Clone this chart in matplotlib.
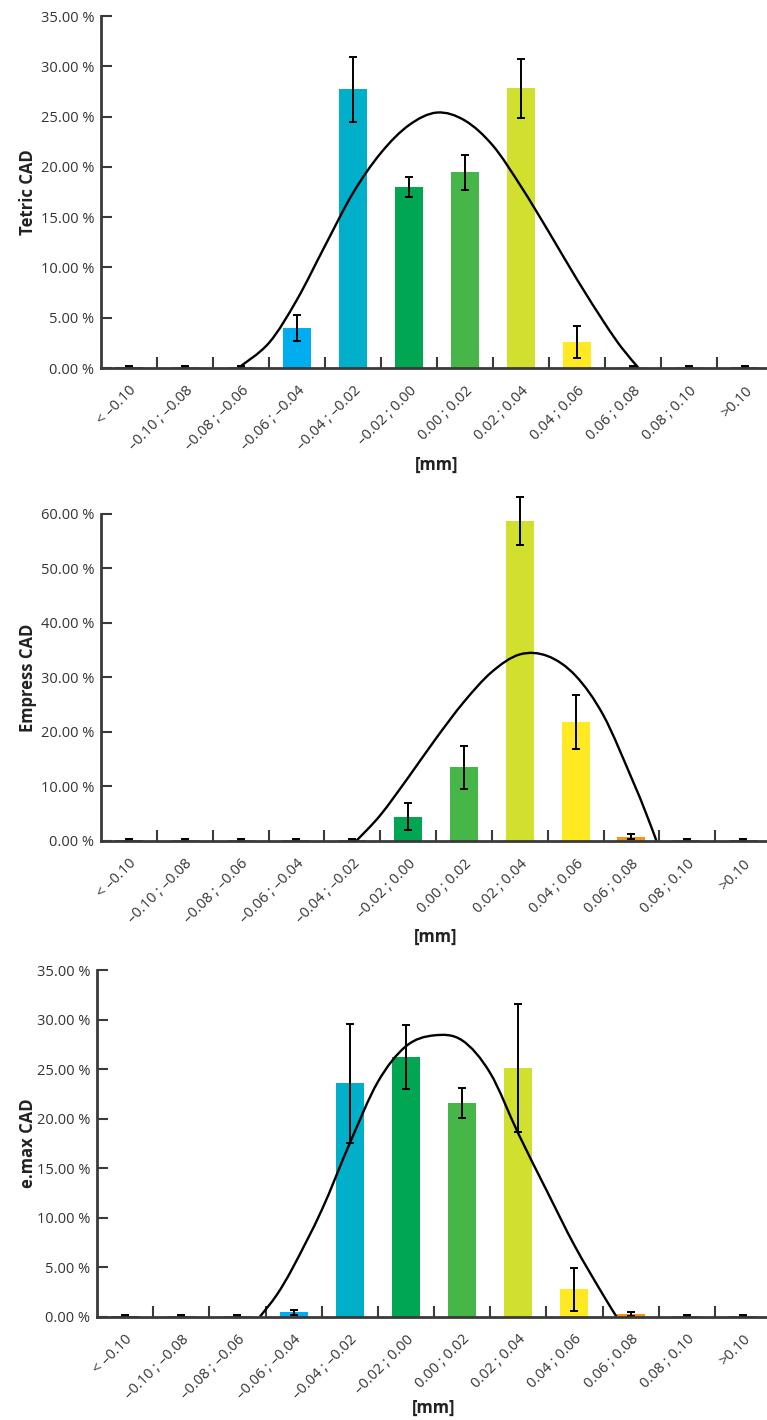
import numpy as np
import matplotlib
matplotlib.use('Agg')
import matplotlib.pyplot as plt
from matplotlib.ticker import FuncFormatter, FixedLocator
from matplotlib.path import Path
from matplotlib.patches import PathPatch

plt.rcParams['font.family'] = ['Open Sans', 'DejaVu Sans']

# bins (mm)
categories = ['< –0.10', '–0.10 ; –0.08', '–0.08 ; –0.06', '–0.06 ; –0.04',
              '–0.04 ; –0.02', '–0.02 ; 0.00', '0.00 ; 0.02', '0.02 ; 0.04',
              '0.04 ; 0.06', '0.06 ; 0.08', '0.08 ; 0.10', '>0.10']
bar_colors = ['#2e3192', '#2a8fd0', '#29a8df', '#00aeef', '#00afca', '#00a651',
              '#46b649', '#d1df2e', '#ffe922', '#f7941d', '#e8603c', '#b8372f']

# Tetric CAD
tetric_vals = [0.1, 0.1, 0.1, 4.0, 27.7, 18.0, 19.45, 27.8, 2.6, 0.1, 0.1, 0.1]
tetric_err = [0.05, 0.05, 0.05, 1.3, 3.25, 0.95, 1.75, 2.9, 1.6, 0.05, 0.05, 0.05]
tetric_curve_x = [1.95, 2.5, 3.0, 3.5, 4.0, 4.5, 5.0, 5.5, 6.0, 6.5, 7.0, 7.5, 8.0,
                  8.5, 8.8, 9.1]
tetric_curve_y = [0, 2.5, 6.8, 12.15, 17.4, 21.4, 24.15, 25.4, 24.6, 22.1, 18.05,
                  13.5, 8.8, 4.4, 2.0, 0]

# Empress CAD
empress_vals = [0.2, 0.2, 0.2, 0.2, 0.2, 4.45, 13.5, 58.7, 21.9, 0.8, 0.2, 0.2]
empress_err = [0.1, 0.1, 0.1, 0.1, 0.1, 2.5, 4.0, 4.45, 4.95, 0.5, 0.1, 0.1]
empress_curve_x = [4.07, 4.5, 5.0, 5.5, 6.0, 6.5, 7.0, 7.5, 8.0, 8.5, 9.0, 9.25, 9.45]
empress_curve_y = [0, 4.7, 11.6, 18.8, 25.5, 31.0, 34.2, 33.9, 30.3, 23.0, 11.6,
                   5.4, 0]

# e.max CAD
emax_vals = [0.1, 0.1, 0.1, 0.45, 23.55, 26.2, 21.6, 25.1, 2.75, 0.3, 0.1, 0.1]
emax_err = [0.05, 0.05, 0.05, 0.25, 6.0, 3.2, 1.5, 6.5, 2.2, 0.2, 0.05, 0.05]
emax_curve_x = [2.4, 2.7, 3.0, 3.5, 4.0, 4.5, 5.0, 5.5, 6.0, 6.5, 7.0, 7.5, 8.0,
                8.5, 8.75]
emax_curve_y = [0, 2.2, 5.1, 10.75, 17.5, 23.7, 27.3, 28.4, 27.9, 24.6, 18.5,
                12.8, 7.2, 2.3, 0]

panels = [
    ('Tetric CAD', tetric_vals, tetric_err, tetric_curve_x, tetric_curve_y, 35, 5,
     [101 / 767, 1 - 368 / 1420, 672 / 767, 352 / 1420], -0.109, -0.276),
    ('Empress CAD', empress_vals, empress_err, empress_curve_x, empress_curve_y, 60, 10,
     [101 / 767, 1 - 841 / 1420, 670 / 767, 327.3 / 1420], -0.109, -0.293),
    ('e.max CAD', emax_vals, emax_err, emax_curve_x, emax_curve_y, 35, 5,
     [97 / 767, 1 - 1316.7 / 1420, 674 / 767, 346.7 / 1420], -0.102, -0.263),
]


def smooth_path(xs, ys):
    # smoothed line through the read points (like a spreadsheet "smoothed line")
    pts = np.column_stack([xs, ys])
    verts = [pts[0]]
    codes = [Path.MOVETO]
    n = len(pts)
    for i in range(n - 1):
        p0 = pts[i - 1] if i > 0 else pts[i]
        p1, p2 = pts[i], pts[i + 1]
        p3 = pts[i + 2] if i + 2 < n else pts[i + 1]
        verts += [p1 + (p2 - p0) / 6, p2 - (p3 - p1) / 6, p2]
        codes += [Path.CURVE4] * 3
    return Path(verts, codes)


fig = plt.figure(figsize=(7.67, 14.2), dpi=100)
axis_col = '#3a3a3a'
text_col = '#333333'
x = np.arange(len(categories))

for name, vals, err, cx, cy, ymax, ystep, rect, ylab_x, xlab_y in panels:
    ax = fig.add_axes(rect)
    ax.bar(x, vals, width=0.5, color=bar_colors, zorder=2)
    ax.errorbar(x, vals, yerr=err, fmt='none', ecolor='black', elinewidth=1.4,
                capsize=3, capthick=1.4, zorder=3, clip_on=False)
    ax.add_patch(PathPatch(smooth_path(cx, cy), facecolor='none', edgecolor='black',
                           lw=1.7, zorder=4))

    ax.set_xlim(-0.5, 11.5)
    ax.set_ylim(0, ymax)
    ax.set_yticks(np.arange(0, ymax + 0.1, ystep))
    ax.yaxis.set_major_formatter(FuncFormatter(lambda v, p: f'{v:.2f} %'))

    ax.set_xticks(x)
    ax.set_xticklabels(categories, rotation=45, ha='right', rotation_mode='anchor')
    ax.xaxis.set_minor_locator(FixedLocator(np.arange(0.5, 11, 1)))
    ax.tick_params(axis='x', which='major', length=0, pad=11, labelsize=10.5,
                   labelcolor=text_col)
    ax.tick_params(axis='x', which='minor', direction='in', length=8, width=1.5,
                   color=axis_col)
    ax.tick_params(axis='y', direction='in', length=8, width=1.5, color=axis_col,
                   labelsize=10.5, labelcolor=text_col, pad=5)

    for s in ['top', 'right']:
        ax.spines[s].set_visible(False)
    for s in ['left', 'bottom']:
        ax.spines[s].set_color(axis_col)
        ax.spines[s].set_linewidth(2)
        ax.spines[s].set_zorder(5)

    ax.set_ylabel(name, fontsize=12, fontweight='bold', color='#222222', va='center')
    ax.yaxis.set_label_coords(ylab_x, 0.5)
    ax.set_xlabel('[mm]', fontsize=12, fontweight='bold', color='#222222', va='center')
    ax.xaxis.set_label_coords(0.5, xlab_y)

fig.savefig('out.png', dpi=100)
